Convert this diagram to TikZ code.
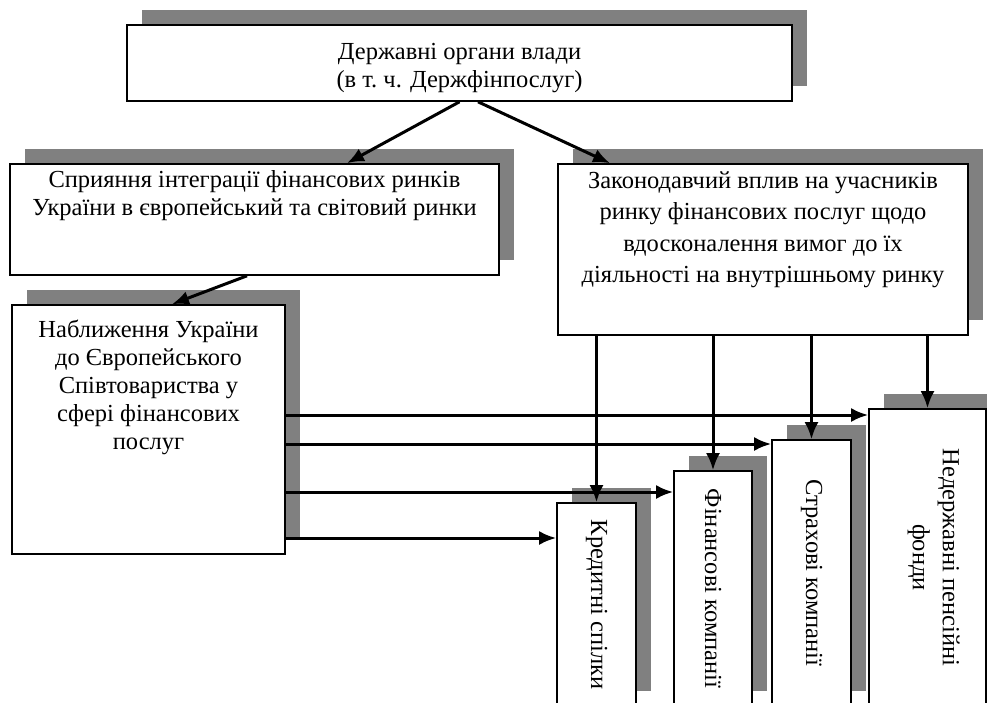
\documentclass[tikz,border=0pt]{standalone}
\usepackage{fontspec}
\setmainfont{Liberation Serif}
\usetikzlibrary{arrows.meta, calc, positioning, shadows}

\begin{document}
\begin{tikzpicture}[x=1pt, y=-1pt,
	box/.style={
		draw,
		line width=1.6pt,
		fill=white,
		inner sep=0pt,
		general shadow={fill=black!50, shadow xshift=15pt, shadow yshift=15pt},
	},
	txt/.style={
		align=center,
		inner sep=0pt,
		font=\fontsize{24.5}{28}\selectfont,
	},
	>={Latex[length=17pt, width=14pt]},
	link/.style={
		->,
		line width=3pt
	}]

	\path[use as bounding box, clip] (0,0) rectangle (987,702);

	\node[box, minimum width=665pt, minimum height=76pt] (gov) at (459.5,63) {};
	\node[txt, below=19pt of gov.north] (gov-t) {Державні органи влади\\(в т.~ч. Держфінпослуг)};

	\node[box, minimum width=489pt, minimum height=111pt] (integr) at (254.5,219.5) {};
	\node[txt, below=7pt of integr.north] (integr-t) {Сприяння інтеграції фінансових ринків\\України в європейський та світовий ринки};

	\node[box, minimum width=410pt, minimum height=171pt] (legis) at (763,249.5) {};
	\node[txt, font=\fontsize{24.5}{31.5}\selectfont, below=8pt of legis.north] (legis-t) {Законодавчий вплив на учасників\\ринку фінансових послуг щодо\\вдосконалення вимог до їх\\діяльності на внутрішньому ринку};

	\node[box, minimum width=273pt, minimum height=249pt] (approx) at (148.5,429.5) {};
	\node[txt, below=16pt of approx.north] (approx-t) {Наближення України\\до Європейського\\Співтовариства у\\сфері фінансових\\послуг};

	% rotated boxes at the bottom
	\node[box, txt, minimum width=79pt, minimum height=203pt] (credit) at (596.5,604.5) {\rotatebox{-90}{Кредитні спілки}};
	\node[box, txt, minimum width=78pt, minimum height=235pt] (fin) at (713,588.5) {\rotatebox{-90}{Фінансові компанії}};
	\node[box, txt, minimum width=79pt, minimum height=266pt] (insur) at (811.5,573) {\rotatebox{-90}{Страхові компанії}};
	\node[box, txt, minimum width=117pt, minimum height=297pt] (pens) at (927.5,557.5) {\hspace*{12pt}\rotatebox{-90}{\begin{tabular}{@{}c@{}}Недержавні пенсійні\\[2pt]фонди\end{tabular}}};

	\draw[link] (gov.south) -- ([xshift=92.5pt]integr.north);
	\draw[link] ([xshift=18.5pt]gov.south) -- ([xshift=-153pt]legis.north);
	\draw[link] ([xshift=-7.5pt]integr.south) -- ([xshift=23.5pt]approx.north);

	\draw[link] (legis.south -| credit.north) -- (credit.north);
	\draw[link] (legis.south -| fin.north) -- (fin.north);
	\draw[link] (legis.south -| insur.north) -- (insur.north);
	\draw[link] (legis.south -| pens.north) -- (pens.north);

	\coordinate (h1) at (285,415);
	\coordinate (h2) at (285,444);
	\coordinate (h3) at (285,492);
	\coordinate (h4) at (285,538);

	\draw[link] (h1) -- (h1 -| pens.west);
	\draw[link] (h2) -- (h2 -| insur.west);
	\draw[link] (h3) -- (h3 -| fin.west);
	\draw[link] (h4) -- (h4 -| credit.west);

\end{tikzpicture}
\end{document}
